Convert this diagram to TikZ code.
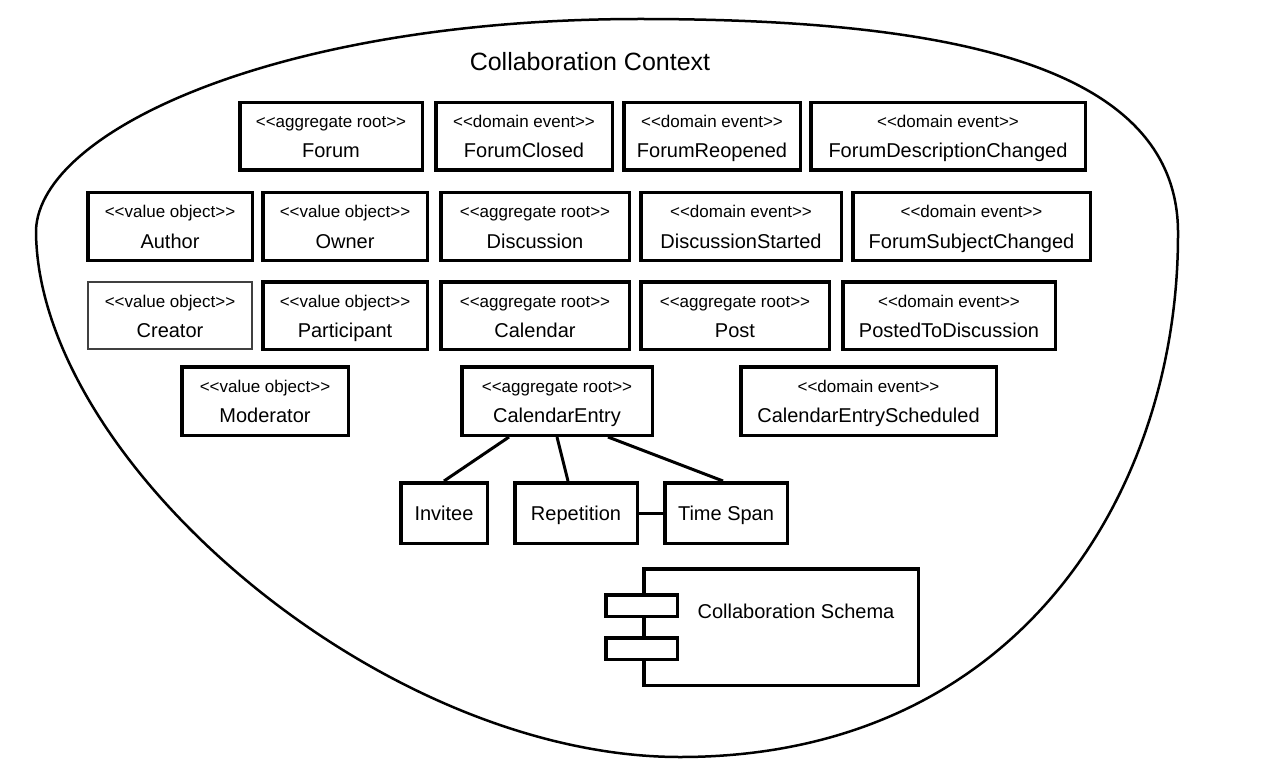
\documentclass[tikz,border=0pt]{standalone}
\usepackage{fontspec}
\setmainfont{Liberation Sans}[Ligatures=TeXOff]
\usetikzlibrary{calc}
\newcommand\umlnode[8][]{%
  \node[umlbox,#1,minimum width={#5-#3-3.5},minimum height={#6-#4-3.5}] (#2) at ({(#3+#5)/2},{(#4+#6)/2}) {};
  \node[stereo,anchor=base] (#2-st) at ($(#2.center)+(0,-8.5)$) {#7};
  \node[lbl,anchor=base] (#2-nm) at ($(#2.center)+(0,21.5)$) {#8};
}
\newcommand\plainnode[6]{%
  \node[umlbox,lbl,minimum width={#4-#2-3.5},minimum height={#5-#3-3.5},text height=14.5pt,text depth=0pt] (#1) at ({(#2+#4)/2},{(#3+#5)/2}) {#6};
}
\newcommand\stlt{<\kern0pt<}
\newcommand\stgt{>\kern0pt>}
\begin{document}
\begin{tikzpicture}[x=1pt,y=-1pt,
  umlbox/.style={draw=black, line width=3.5pt, inner sep=0pt, fill=white},
  thinbox/.style={line width=2pt, draw=black!75},
  stereo/.style={font=\fontsize{17}{19}\selectfont, inner sep=0pt},
  lbl/.style={font=\fontsize{20}{22}\selectfont, inner sep=0pt},
  titlefont/.style={font=\fontsize{25}{28}\selectfont, inner sep=0pt},
  link/.style={line width=3pt},
  blob/.style={line width=2.5pt, line join=round}]
\useasboundingbox (0,0) rectangle (1282,762);

% context boundary
\draw[blob] (36,230) .. controls (40,130) and (280,19) .. (640,19)
  .. controls (950,19) and (1180,65) .. (1178,235)
  .. controls (1178,490) and (1020,757) .. (680,757)
  .. controls (380,757) and (36,460) .. cycle;

\node[titlefont] (title) at (590,62) {Collaboration Context};

% row 1
\umlnode{forum}{238}{101}{424}{172}{\stlt aggregate root\stgt}{Forum}
\umlnode{fclosed}{434}{101}{614}{172}{\stlt domain event\stgt}{ForumClosed}
\umlnode{freopen}{622}{101}{802}{172}{\stlt domain event\stgt}{ForumReopened}
\umlnode{fdesc}{809}{101}{1087}{172}{\stlt domain event\stgt}{ForumDescriptionChanged}
% row 2
\umlnode{author}{86}{191}{254}{262}{\stlt value object\stgt}{Author}
\umlnode{owner}{261}{191}{429}{262}{\stlt value object\stgt}{Owner}
\umlnode{disc}{439}{191}{631}{262}{\stlt aggregate root\stgt}{Discussion}
\umlnode{dstart}{639}{191}{843}{262}{\stlt domain event\stgt}{DiscussionStarted}
\umlnode{fsubj}{851}{191}{1092}{262}{\stlt domain event\stgt}{ForumSubjectChanged}
% row 3
\umlnode[thinbox]{creator}{86}{280}{254}{351}{\stlt value object\stgt}{Creator}
\umlnode{partic}{261}{280}{429}{351}{\stlt value object\stgt}{Participant}
\umlnode{cal}{439}{280}{631}{351}{\stlt aggregate root\stgt}{Calendar}
\umlnode{post}{639}{280}{831}{351}{\stlt aggregate root\stgt}{Post}
\umlnode{posted}{841}{280}{1057}{351}{\stlt domain event\stgt}{PostedToDiscussion}
% row 4
\umlnode{moder}{180}{365}{350}{437}{\stlt value object\stgt}{Moderator}
\umlnode{ce}{460}{365}{654}{437}{\stlt aggregate root\stgt}{CalendarEntry}
\umlnode{ces}{739}{365}{998}{437}{\stlt domain event\stgt}{CalendarEntryScheduled}
% row 5
\plainnode{inv}{399}{481}{489}{545}{Invitee}
\plainnode{rep}{513}{481}{639}{545}{Repetition}
\plainnode{ts}{663}{481}{789}{545}{Time Span}

\draw[link] ($(ce.south)+(-48,0)$) -- (inv.north);
\draw[link] (ce.south) -- ($(rep.north)+(-8,0)$);
\draw[link] ($(ce.south)+(51,0)$) -- ($(ts.north)+(-3,0)$);
\draw[link] (rep.east) -- (ts.west);

% component
\node[umlbox, minimum width=274.5, minimum height=116.5] (schema) at (781,627) {};
\node[umlbox, minimum width=71.5, minimum height=21.5] (tabA) at (641.5,605.5) {};
\node[umlbox, minimum width=71.5, minimum height=21.5] (tabB) at (641.5,648.5) {};
\node[lbl] (schemaname) at (796,611) {Collaboration Schema};
\end{tikzpicture}
\end{document}
